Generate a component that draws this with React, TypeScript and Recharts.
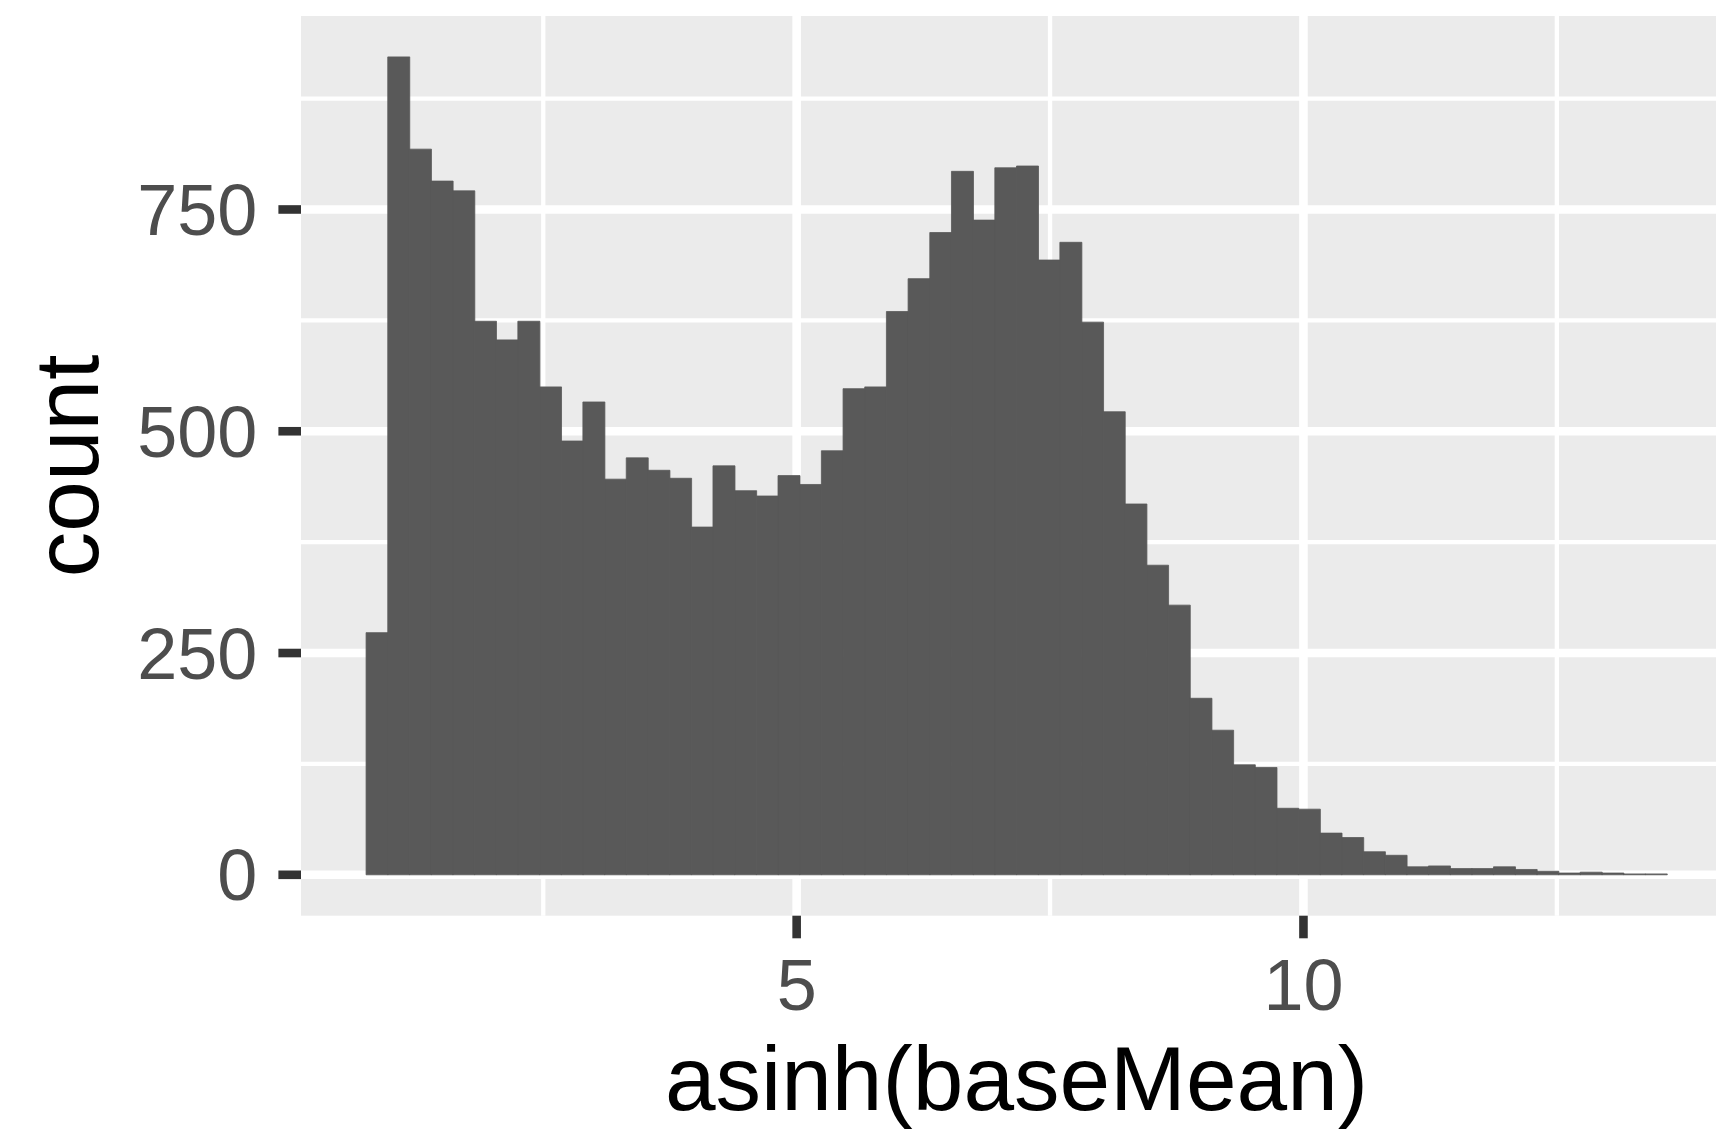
import { ComposedChart, Bar, XAxis, YAxis, CartesianGrid, Label } from 'recharts';

// histogram of asinh(baseMean), 60 bins
const binCenters = [
  0.859, 1.0729, 1.2868, 1.5007, 1.7146, 1.9285, 2.1424, 2.3563, 2.5702, 2.7841,
  2.998, 3.2119, 3.4258, 3.6397, 3.8536, 4.0675, 4.2814, 4.4953, 4.7092, 4.9231,
  5.137, 5.3509, 5.5648, 5.7787, 5.9926, 6.2065, 6.4204, 6.6343, 6.8482, 7.0621,
  7.276, 7.4899, 7.7038, 7.9177, 8.1316, 8.3455, 8.5594, 8.7733, 8.9872, 9.2011,
  9.415, 9.6289, 9.8428, 10.0567, 10.2706, 10.4845, 10.6984, 10.9123, 11.1262, 11.3401,
  11.554, 11.7679, 11.9818, 12.1957, 12.4096, 12.6235, 12.8374, 13.0513, 13.2652, 13.4791,
];

const counts = [
  273, 922, 818, 782, 771, 624, 603, 624, 550, 489,
  533, 446, 470, 456, 447, 392, 461, 433, 427, 450,
  440, 478, 548, 550, 635, 672, 724, 793, 738, 797,
  799, 693, 713, 623, 522, 418, 349, 304, 199, 163,
  124, 121, 75, 74, 47, 42, 26, 22, 9, 10,
  7, 7, 9, 6, 4, 2, 3, 2, 1, 1,
];

const xTicks = [5, 10];
const xMinor = [2.5, 7.5, 12.5];
const yTicks = [0, 250, 500, 750];
const yMinor = [125, 375, 625, 875];

const data = binCenters.map((x, i) => ({ x, count: counts[i] }));

const FONT = '"Liberation Sans", Arial, Helvetica, sans-serif';
const tickStyle = { fill: '#4D4D4D', fontSize: 72, fontFamily: FONT };

export default function App() {
  return (
    <div
      style={{
        position: 'fixed',
        left: 0,
        top: 0,
        width: 1716,
        height: 1132,
        overflow: 'hidden',
        background: '#FFFFFF',
      }}
    >
      <ComposedChart
        width={1732}
        height={1132}
        data={data}
        margin={{ top: 16, right: 0, bottom: 0, left: 0 }}
        barCategoryGap={0}
        barGap={0}
      >
        <CartesianGrid
          fill="#EBEBEB"
          stroke="#FFFFFF"
          strokeWidth={4.3}
          horizontalValues={yMinor}
          verticalValues={xMinor}
        />
        <CartesianGrid
          stroke="#FFFFFF"
          strokeWidth={8.6}
          horizontalValues={yTicks}
          verticalValues={xTicks}
        />
        <XAxis
          dataKey="x"
          type="number"
          domain={[0.11, 14.228]}
          allowDataOverflow
          ticks={xTicks}
          interval={0}
          height={216.3}
          axisLine={false}
          tickSize={22.6}
          tickMargin={21}
          tickLine={{ stroke: '#333333', strokeWidth: 8.6 }}
          tick={tickStyle}
        >
          <Label
            content={(props: any) => {
              const vb = props.viewBox || {};
              return (
                <text
                  x={vb.x + vb.width / 2}
                  y={1110}
                  textAnchor="middle"
                  fill="#000000"
                  fontSize={91}
                  fontFamily={FONT}
                >
                  asinh(baseMean)
                </text>
              );
            }}
          />
        </XAxis>
        <YAxis
          type="number"
          domain={[-46.1, 968.1]}
          allowDataOverflow
          ticks={yTicks}
          interval={0}
          width={301}
          axisLine={false}
          tickSize={22.6}
          tickMargin={21}
          tickLine={{ stroke: '#333333', strokeWidth: 8.6 }}
          tick={tickStyle}
        >
          <Label
            content={(props: any) => {
              const vb = props.viewBox || {};
              const cy = vb.y + vb.height / 2;
              return (
                <text
                  x={98}
                  y={cy}
                  transform={`rotate(-90 98 ${cy})`}
                  textAnchor="middle"
                  fill="#000000"
                  fontSize={91}
                  fontFamily={FONT}
                >
                  count
                </text>
              );
            }}
          />
        </YAxis>
        <Bar
          dataKey="count"
          fill="#595959"
          stroke="#595959"
          strokeWidth={0.8}
          isAnimationActive={false}
        />
      </ComposedChart>
    </div>
  );
}
